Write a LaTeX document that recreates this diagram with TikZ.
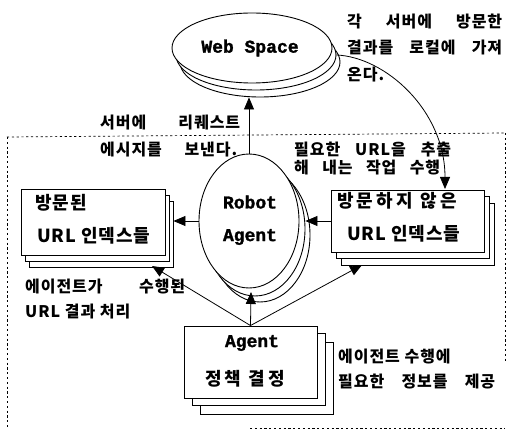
\documentclass[tikz,border=0pt]{standalone}
\usepackage{fontspec}
\newfontfamily\monob{Liberation Mono}[UprightFont={* Bold}, UprightFeatures={FakeBold=1.5}]
\newfontfamily\krA[LetterSpace=6]{Noto Sans CJK KR}
\newfontfamily\krB[LetterSpace=5]{Noto Sans CJK KR}
\newfontfamily\krC[LetterSpace=18]{Noto Sans CJK KR}
\usetikzlibrary{shapes.geometric,arrows.meta}
\begin{document}
\begin{tikzpicture}[x=1pt,y=-1pt,
  ell/.style={ellipse, draw, fill=white, line width=0.9pt, inner sep=0pt},
  page/.style={rectangle, draw, fill=white, line width=0.9pt, inner sep=0pt},
  arr/.style={line width=0.8pt, -{Triangle[length=12pt,width=10pt]}},
  ann/.style={inner sep=0pt, anchor=west, font=\fontsize{16}{16}\krA\bfseries},
  lbl/.style={inner sep=0pt, anchor=west, font=\fontsize{18}{18}\krB\bfseries},
  lblw/.style={inner sep=0pt, anchor=west, font=\fontsize{18}{18}\krC\bfseries},
  eng/.style={inner sep=0pt, font=\fontsize{18}{18}\monob},
  border/.style={line width=0.7pt, dash pattern=on 2.2pt off 2.6pt}]
\useasboundingbox (0,0) rectangle (508,430);

% dashed frame
\draw[border] (7,137) -- (505,133);
\draw[border] (7,137) -- (7,428);
\draw[border] (505,133) -- (505,362);
\draw[border] (250,428) -- (505,428);

% Web Space
\node[ell, minimum width=160, minimum height=70] (web2) at (260,62) {};
\node[ell, minimum width=160, minimum height=70] (web1) at (256,55) {};
\node[ell, minimum width=160, minimum height=70] (web) at (252,48) {};
\node[eng] (webtxt) at (250,48) {Web Space};

% Robot Agent
\node[ell, minimum width=100, minimum height=134] (robot2) at (260,235) {};
\node[ell, minimum width=100, minimum height=134] (robot1) at (255,229) {};
\node[ell, minimum width=100, minimum height=134] (robot) at (249,221) {};
\node[eng] (rt1) at (250,202) {Robot};
\node[eng] (rt2) at (250,237) {Agent};

% left box
\node[page, minimum width=144, minimum height=66] (lbox2) at (101,234) {};
\node[page, minimum width=144, minimum height=66] (lbox1) at (97,228) {};
\node[page, minimum width=144, minimum height=66] (lbox) at (93,222) {};
\node[lbl] (l1) at (35,203) {방문된};
\node[lbl] (l2) at (37,236) {URL 인덱스들};

% right box
\node[page, minimum width=153, minimum height=62] (rbox2) at (417.5,234) {};
\node[page, minimum width=153, minimum height=62] (rbox1) at (412.5,227) {};
\node[page, minimum width=153, minimum height=62] (rbox) at (407.5,221) {};
\node[lblw] (r1) at (337,201) {방문하지 않은};
\node[lbl] (r2) at (347,234) {URL 인덱스들};

% Agent box
\node[page, minimum width=133, minimum height=72] (agent2) at (266.5,378) {};
\node[page, minimum width=133, minimum height=72] (agent1) at (258.5,369) {};
\node[page, minimum width=133, minimum height=72] (agent) at (250.5,362) {};
\node[eng] (at1) at (252,343) {Agent};
\node[lblw] (at2) at (205,379) {정책 결정};

% annotations
\node[ann] (a1) at (100,123) {\makebox[140pt][s]{서버에 리퀘스트}};
\node[ann] (a2) at (100,150) {\makebox[137pt][s]{에시지를 보낸다.}};
\node[ann] (b1) at (347,22) {\makebox[155pt][s]{각 서버에 방문한}};
\node[ann] (b2) at (347,48) {\makebox[155pt][s]{결과를 로컬에 가져}};
\node[ann] (b3) at (347,75) {온다.};
\node[ann] (c1) at (294,150) {\makebox[157pt][s]{필요한 URL을 추출}};
\node[ann] (c2) at (294,168) {\makebox[146pt][s]{해 내는 작업 수행}};
\node[ann] (d1) at (25,287) {\makebox[160pt][s]{에이전트가 수행된}};
\node[ann] (d2) at (25,312) {URL 결과 처리};
\node[ann] (e1) at (338,357) {에이전트 수행에};
\node[ann] (e2) at (338,382) {\makebox[157pt][s]{필요한 정보를 제공}};

% connectors
\coordinate (rtip) at (251,292);
\coordinate (ltip) at (152,266);
\coordinate (rbtip) at (362,265);
\coordinate (ctip) at (445,189);
\draw[arr] (robot.north) -- (robot.north |- web2.south);
\draw[arr] (robot.west) -- (robot.west -| lbox2.east);
\draw[arr] (rbox.west) -- (rbox.west -| robot1.east);
\draw[arr] (agent.north) -- (rtip);
\draw[arr] (agent.north) -- (ltip);
\draw[arr] (agent.north) -- (rbtip);
\draw[arr] (web1.east) .. controls (385,57) and (445,110) .. (ctip);
\end{tikzpicture}
\end{document}
